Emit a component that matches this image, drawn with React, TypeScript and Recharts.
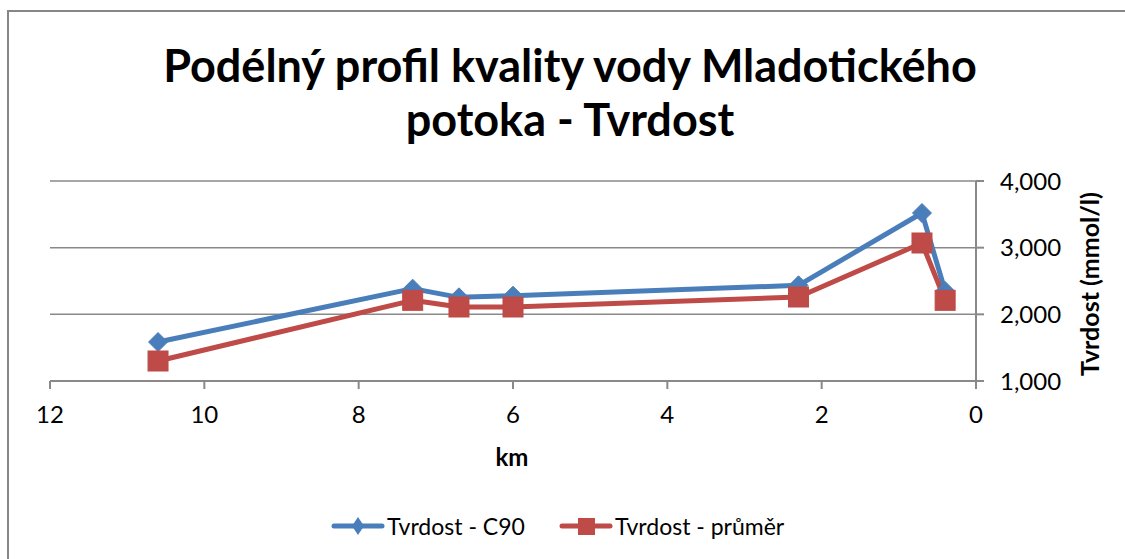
import React from 'react';
import { LineChart, Line, XAxis, YAxis, CartesianGrid, Legend } from 'recharts';

const kmValues = [10.6, 7.3, 6.7, 6.0, 2.3, 0.7, 0.4];
const c90Values = [1585, 2385, 2255, 2280, 2435, 3520, 2350];
const prumerValues = [1300, 2210, 2110, 2110, 2260, 3070, 2210];
const xTicks = [0, 2, 4, 6, 8, 10, 12];
const yTicks = [1000, 2000, 3000, 4000];
const seriesNames = ['Tvrdost - C90', 'Tvrdost - průměr'];
const titleLines = ['Podélný profil kvality vody Mladotického', 'potoka - Tvrdost'];
const xTitle = 'km';
const yTitle = 'Tvrdost (mmol/l)';

const data = kmValues.map((km, i) => ({ km, c90: c90Values[i], prumer: prumerValues[i] }));

const BLUE = '#4A7EBB';
const RED = '#BE4B48';
const GRID = '#898989';
const FONT = 'Lato, "Noto Sans", sans-serif';

const Diamond = (props: any) => {
  const { cx, cy } = props;
  if (cx == null || cy == null) return null;
  const r = 9.5;
  return (
    <polygon
      points={`${cx},${cy - r} ${cx + r},${cy} ${cx},${cy + r} ${cx - r},${cy}`}
      fill={BLUE}
      stroke={BLUE}
      strokeWidth={1}
    />
  );
};

const Square = (props: any) => {
  const { cx, cy } = props;
  if (cx == null || cy == null) return null;
  const h = 10;
  return <rect x={cx - h} y={cy - h} width={2 * h} height={2 * h} fill={RED} stroke={RED} strokeWidth={1} />;
};

const LegendContent = () => (
  <div style={{ display: 'flex', alignItems: 'center', fontFamily: FONT, fontSize: 23, color: '#000' }}>
    <svg width={54} height={30}>
      <line x1={3} y1={15} x2={51} y2={15} stroke={BLUE} strokeWidth={5} strokeLinecap="round" />
      <polygon points="27,6 33,15 27,24 21,15" fill={BLUE} />
    </svg>
    <span style={{ marginLeft: 2 }}>{seriesNames[0]}</span>
    <svg width={54} height={30} style={{ marginLeft: 34 }}>
      <line x1={3} y1={15} x2={51} y2={15} stroke={RED} strokeWidth={5} strokeLinecap="round" />
      <rect x={19} y={7} width={17} height={17} fill={RED} />
    </svg>
    <span style={{ marginLeft: 2 }}>{seriesNames[1]}</span>
  </div>
);

export default function App() {
  return (
    <div
      style={{
        position: 'absolute',
        left: 0,
        top: 0,
        width: 1125,
        height: 559,
        overflow: 'hidden',
        background: '#fff',
        fontFamily: FONT,
      }}
    >
      <div
        style={{
          position: 'absolute',
          left: 7,
          top: 10,
          width: 1140,
          height: 580,
          border: '2px solid #868686',
          boxSizing: 'border-box',
        }}
      />
      <div
        style={{
          position: 'absolute',
          left: 20,
          width: 1100,
          top: 38,
          textAlign: 'center',
          fontWeight: 700,
          fontSize: 45,
          lineHeight: '54px',
          color: '#000',
        }}
      >
        <div>{titleLines[0]}</div>
        <div>{titleLines[1]}</div>
      </div>
      <LineChart
        width={1125}
        height={559}
        data={data}
        margin={{ top: 181, left: 50, right: 0, bottom: 118 }}
        style={{ position: 'absolute', left: 0, top: 0 }}
      >
        <CartesianGrid vertical={false} stroke={GRID} strokeWidth={1.5} />
        <XAxis
          dataKey="km"
          type="number"
          domain={[0, 12]}
          reversed
          ticks={xTicks}
          interval={0}
          height={60}
          stroke={GRID}
          strokeWidth={2}
          tickSize={8}
          tickMargin={17}
          tick={{ fill: '#000', fontSize: 24, fontFamily: FONT }}
        />
        <YAxis
          orientation="right"
          type="number"
          domain={[1000, 4000]}
          ticks={yTicks}
          interval={0}
          width={149}
          stroke={GRID}
          strokeWidth={2}
          tickSize={8}
          tickMargin={16}
          tick={{ fill: '#000', fontSize: 24, fontFamily: FONT }}
          tickFormatter={(v: number) => v.toLocaleString('en-US')}
        />
        <Legend
          layout="horizontal"
          verticalAlign="middle"
          align="center"
          content={LegendContent}
          wrapperStyle={{ position: 'absolute', left: 331, top: 511, width: 540, height: 30 }}
        />
        <Line
          dataKey="c90"
          name={seriesNames[0]}
          stroke={BLUE}
          strokeWidth={5}
          strokeLinejoin="round"
          dot={<Diamond />}
          activeDot={false}
          isAnimationActive={false}
        />
        <Line
          dataKey="prumer"
          name={seriesNames[1]}
          stroke={RED}
          strokeWidth={5}
          strokeLinejoin="round"
          dot={<Square />}
          activeDot={false}
          isAnimationActive={false}
        />
      </LineChart>
      <div
        style={{
          position: 'absolute',
          left: 462,
          width: 100,
          top: 442,
          textAlign: 'center',
          fontWeight: 700,
          fontSize: 24,
          lineHeight: '30px',
          color: '#000',
        }}
      >
        {xTitle}
      </div>
      <div
        style={{
          position: 'absolute',
          left: 1089,
          top: 284,
          width: 0,
          height: 0,
        }}
      >
        <div
          style={{
            position: 'absolute',
            left: -130,
            top: -16,
            width: 260,
            textAlign: 'center',
            fontWeight: 700,
            fontSize: 25,
            lineHeight: '32px',
            color: '#000',
            transform: 'rotate(-90deg)',
            whiteSpace: 'nowrap',
          }}
        >
          {yTitle}
        </div>
      </div>
    </div>
  );
}
